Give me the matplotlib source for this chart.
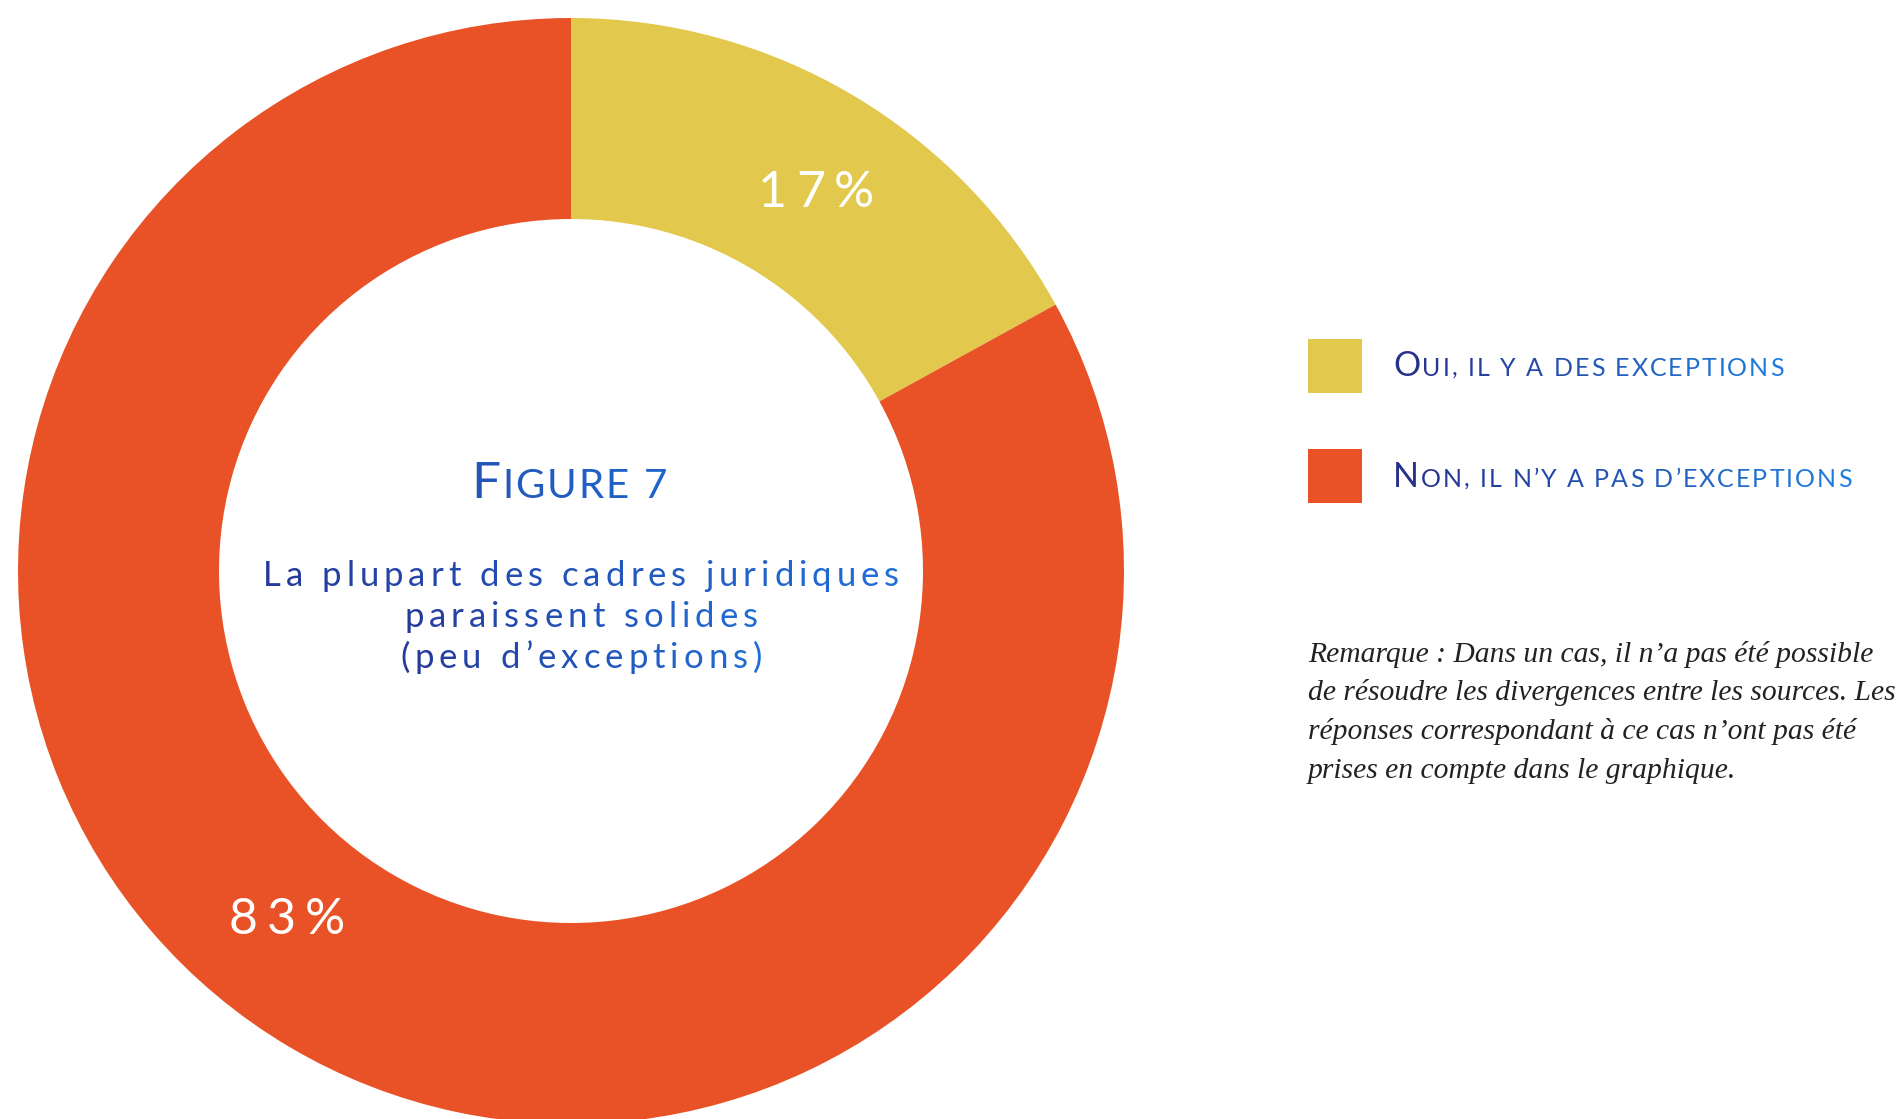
import matplotlib
matplotlib.use('Agg')
import matplotlib.pyplot as plt
import numpy as np
from matplotlib.colors import to_rgb

# data
shares = [17, 83]
pct_labels = ['17%', '83%']
slice_colors = ['#E2C94D', '#E95226']
legend_first = ['O', 'N']
legend_rest = ['ui, il y a des exceptions', "on, il n\u2019y a pas d\u2019exceptions"]
title = ['F', 'igure 7']
subtitle = ['La plupart des cadres juridiques', 'paraissent solides', '(peu d\u2019exceptions)']
remark = ['Remarque : Dans un cas, il n\u2019a pas été possible',
          'de résoudre les divergences entre les sources. Les',
          'réponses correspondant à ce cas n\u2019ont pas été',
          'prises en compte dans le graphique.']

W, H = 1904, 1119
fig = plt.figure(figsize=(W / 100, H / 100), dpi=100)
ax = fig.add_axes([0, 0, 1, 1])

cx, cy, R, r_in = 571, H - 571, 553, 352
ax.pie(shares, colors=slice_colors, startangle=90, counterclock=False,
       radius=R, center=(cx, cy), wedgeprops=dict(width=R - r_in, linewidth=0))
ax.set_xlim(0, W)
ax.set_ylim(0, H)
ax.set_aspect('auto')
ax.axis('off')

renderer = fig.canvas.get_renderer()
SANS = ['Lato', 'DejaVu Sans']


def char_w(ch, size, **kw):
    if ch == ' ':
        return size * 100 / 72 * 0.26
    t = ax.text(0, 0, ch, fontsize=size, **kw)
    w = t.get_window_extent(renderer).width
    t.remove()
    return w


def draw_spaced(x, y, runs, track, ha='left', c0=None, c1=None, color='k', **kw):
    chars = [(ch, s) for txt, s in runs for ch in txt]
    ws = [char_w(ch, s, **kw) for ch, s in chars]
    total = sum(ws) + track * (len(chars) - 1)
    if ha == 'center':
        x -= total / 2
    pos = x
    for (ch, s), w in zip(chars, ws):
        col = color
        if c0 is not None:
            f = (pos - x) / total
            col = tuple(np.array(to_rgb(c0)) * (1 - f) + np.array(to_rgb(c1)) * f)
        if ch != ' ':
            ax.text(pos, y, ch, fontsize=s, color=col, ha='left', va='baseline', **kw)
        pos += w + track


# percent labels
draw_spaced(816, H - 207, [(pct_labels[0], 36)], 9, ha='center', color='white', family=SANS)
draw_spaced(287, H - 934, [(pct_labels[1], 36)], 9, ha='center', color='white', family=SANS)

# centre title
draw_spaced(569, H - 498, [(title[0], 37), (title[1].upper(), 29)], 2.0, ha='center',
            c0='#2456b8', c1='#1c66cc', family=SANS)
for i, line in enumerate(subtitle):
    draw_spaced(581, H - (586 + 41 * i), [(line, 25)], 5.0, ha='center',
                c0='#263a9a', c1='#1f6fd8', family=SANS)

# legend
for i in range(2):
    ytop = 339 + 110 * i
    ax.add_patch(plt.Rectangle((1308, H - ytop - 54), 54, 54, color=slice_colors[i], lw=0))
    draw_spaced(1393, H - (376 + 111 * i), [(legend_first[i], 24.5), (legend_rest[i].upper(), 18)],
                2.0, c0='#28308a', c1='#1f80e4', family=SANS)

# remark
for i, line in enumerate(remark):
    ax.text(1308, H - (662 + 38.5 * i), line, fontsize=21.3, style='italic',
            family='Liberation Serif', color='#222222', va='baseline', ha='left')

fig.savefig('out.png', dpi=100, facecolor='white')
